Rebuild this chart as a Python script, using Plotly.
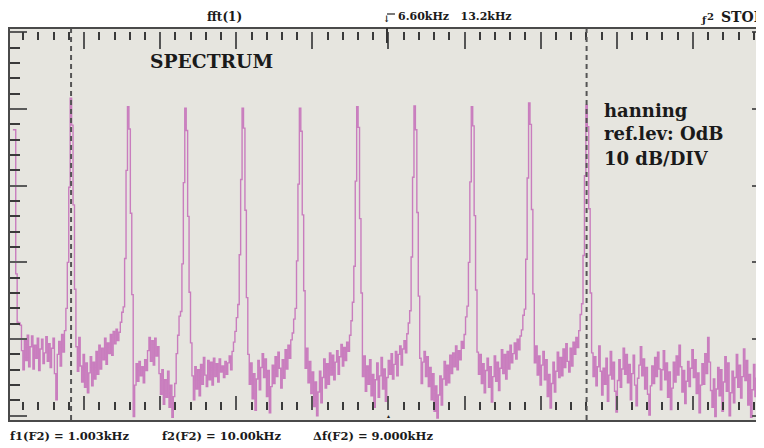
import plotly.graph_objects as go

# ---------------- data ----------------
# FFT magnitude in dB, one value per 0.025 kHz bin, starting at DC
BIN_KHZ = 0.025
band_0k = [-12.7, -12.7, -31.5, -37.8,
           -37.9, -38.2, -41.5, -44.0, -40.2, -42.8, -39.5, -43.6, -41.0, -39.6, -43.9, -40.8, -42.5, -39.9, -44.1, -41.3,
           -40.0, -43.2, -41.8, -39.7, -42.9, -40.6, -43.7, -41.2, -39.9, -44.5, -47.9, -42.0, -40.3, -43.5, -39.4, -41.7, -38.9,
           -36.0, -30.0, -20.2]
band_1k = [-8.6, -12.1, -22.5, -33.5,
           -41.0, -44.2, -39.8, -43.5, -45.6, -42.0, -46.3, -43.1, -47.0, -44.4, -42.3, -46.1, -43.0, -45.2, -41.6, -44.6,
           -40.8, -43.9, -41.2, -42.7, -39.9, -43.3, -40.5, -41.9, -39.4, -42.1, -39.0, -40.6, -38.7, -40.2, -39.1, -37.8, -36.5,
           -35.8, -29.5, -18.0]
band_2k = [-9.7, -12.6, -23.6, -34.2,
           -50.1, -46.0, -43.2, -45.5, -42.9, -44.8, -43.6, -45.7, -42.7, -44.1, -41.5, -39.8, -42.9, -40.2, -43.4, -39.9,
           -42.2, -41.0, -44.5, -47.2, -44.0, -48.5, -45.3, -47.6, -44.2, -48.9, -46.0, -50.2, -47.5, -45.8, -41.9, -39.5, -37.0,
           -36.4, -30.2, -19.6]
band_3k = [-9.9, -12.8, -24.0, -33.9,
           -40.5, -44.8, -47.9, -43.6, -46.5, -44.0, -47.4, -43.3, -45.9, -42.4, -44.7, -46.2, -42.8, -45.3, -43.0, -46.0,
           -42.5, -44.9, -43.2, -45.6, -42.6, -44.3, -43.5, -45.0, -42.9, -44.6, -43.1, -42.2, -44.0, -41.6, -40.4, -39.0, -37.2,
           -35.5, -29.0, -19.2]
band_4k = [-9.9, -12.5, -23.2, -34.6,
           -42.0, -45.9, -43.1, -47.8, -44.5, -49.3, -45.2, -42.8, -46.6, -43.7, -41.9, -45.0, -42.6, -47.5, -44.1, -49.6,
           -46.2, -43.4, -45.8, -42.3, -44.9, -41.7, -43.8, -46.4, -42.7, -45.1, -41.4, -43.9, -40.8, -42.5, -40.1, -39.2, -37.4,
           -36.0, -29.8, -19.8]
band_5k = [-9.9, -12.9, -23.8, -33.7,
           -43.8, -41.2, -45.7, -42.9, -47.1, -44.3, -48.8, -45.6, -50.0, -46.9, -44.2, -48.3, -45.0, -42.6, -46.4, -43.2,
           -45.9, -41.8, -44.7, -42.1, -45.3, -43.0, -41.5, -44.6, -42.3, -40.7, -43.5, -41.1, -42.8, -40.4, -41.6, -39.5, -37.6,
           -35.2, -30.5, -19.4]
band_6k = [-9.7, -12.4, -24.3, -34.0,
           -44.9, -42.2, -46.8, -43.5, -45.9, -42.7, -47.4, -44.6, -48.9, -45.3, -43.1, -47.6, -44.8, -42.4, -46.5, -43.9,
           -48.1, -45.0, -42.8, -44.6, -41.9, -45.2, -43.3, -41.6, -44.8, -42.0, -40.9, -43.4, -41.3, -40.2, -41.8, -39.3, -37.9,
           -36.3, -29.3, -18.9]
band_7k = [-9.6, -12.7, -23.5, -34.4,
           -42.5, -45.8, -43.0, -41.6, -44.9, -42.3, -46.2, -43.7, -47.9, -44.5, -49.4, -46.1, -50.3, -47.3, -44.8, -48.6,
           -45.2, -42.9, -46.0, -43.4, -45.7, -42.1, -44.5, -41.8, -43.6, -40.9, -44.0, -41.5, -42.7, -40.3, -41.2, -39.4, -37.1,
           -35.7, -30.0, -19.5]
band_8k = [-9.7, -12.2, -23.9, -33.6,
           -41.7, -44.6, -42.0, -45.8, -43.2, -47.0, -44.1, -42.5, -46.3, -43.6, -48.2, -44.9, -42.2, -45.5, -43.0, -46.7,
           -43.8, -41.4, -44.5, -42.0, -45.2, -41.6, -43.9, -40.8, -43.1, -41.9, -40.5, -42.6, -40.0, -41.4, -39.6, -38.8, -36.9,
           -36.1, -29.6, -19.0]
band_9k = [-9.2, -12.0, -23.1, -34.1,
           -43.1, -40.9, -44.7, -42.2, -46.0, -43.4, -41.6, -45.3, -42.7, -47.5, -44.6, -49.0, -45.8, -43.0, -46.9, -44.2,
           -41.7, -45.0, -42.4, -44.8, -41.3, -43.7, -40.6, -42.9, -44.3, -41.2, -43.5, -40.4, -42.0, -39.8, -41.1, -38.9, -36.8,
           -35.4, -29.1, -18.7]
band_10k = [-9.5, -12.3, -23.0, -34.0,
            -41.8, -44.9, -42.3, -46.1, -43.6, -40.9, -44.2, -47.3, -43.8, -45.9, -42.5, -48.1, -44.7, -41.6, -45.2, -43.0,
            -46.8, -49.5, -45.4, -42.7, -46.3, -43.9, -41.2, -44.6, -42.0,
            -45.7, -43.3, -47.9, -44.5, -42.1, -46.0, -48.7, -45.1, -43.4, -41.0, -44.8, -42.6, -46.5, -43.7, -47.2, -49.9,
            -46.1, -43.5, -45.8, -42.4, -44.9, -41.7, -43.9, -46.6, -44.0,
            -41.5, -45.3, -43.1, -47.6, -44.3, -49.2, -46.4, -43.0, -45.6, -42.2, -44.7, -40.8, -43.6, -46.9, -44.1, -48.4,
            -45.5, -42.9, -46.2, -43.8, -41.4, -45.0, -42.7, -47.1, -44.4,
            -49.6, -46.0, -43.2, -45.9, -41.9, -44.5, -39.8, -43.0, -46.7, -48.9, -45.2, -50.1, -46.5, -43.7, -47.4, -44.0,
            -49.4, -45.6, -42.3, -46.8, -43.1, -50.0, -47.0, -44.2, -48.3,
            -45.0, -42.0, -46.3, -43.4, -47.7, -44.9, -41.3, -45.4, -42.8, -48.6, -44.6, -50.2, -46.6, -43.3, -47.5, -45.1,
            -41.1, -44.3, -39.9, -43.7, -46.4, -44.0, -47.2, -43.5, -45.8]

spectrum_db = (band_0k + band_1k + band_2k + band_3k + band_4k + band_5k
               + band_6k + band_7k + band_8k + band_9k + band_10k)
freq_khz = [round(i * BIN_KHZ - BIN_KHZ / 2, 5) for i in range(len(spectrum_db))]

cursor_f1_khz = 1.003
cursor_f2_khz = 10.00

header_left = "fft(1)"
header_mid = "6.60kHz   13.2kHz"
header_right = "STOP"
title_text = "SPECTRUM"
info_lines = ["hanning", "ref.lev: OdB", "10 dB/DIV"]
footer = ["f1(F2) = 1.003kHz", "f2(F2) = 10.00kHz", "\u0394f(F2) = 9.000kHz"]

# ---------------- layout geometry ----------------
# the page body adds an 8 px offset; geometry below is in window pixels
OFF = 8
W, H = 764, 448
PL, PR, PT, PB = 10, 772, 29, 420          # plot area in window pixels
X_RANGE = [-0.0627, 13.201]
Y_RANGE = [-50.55, 0.43]
X_DIV = 1.328
X_TICK0 = -0.0975

BG = "#E6E5DF"
FRAME = "#4a4a4a"
TICKC = "#3a3a3a"
TRACE = "#C97DBE"
FONT = "DejaVu Serif"


def px_x(px):
    return (px - PL) / (PR - PL)


def px_y(py):
    return (PB - py) / (PB - PT)


fig = go.Figure()
fig.add_trace(go.Scatter(x=freq_khz, y=spectrum_db, mode="lines",
                         line=dict(color=TRACE, width=1.4, shape="hv"),
                         showlegend=False, hoverinfo="skip"))
# helper empty traces so the tick-only axes are drawn
fig.add_trace(go.Scatter(x=[None], y=[None], xaxis="x2", yaxis="y", showlegend=False, hoverinfo="skip"))
fig.add_trace(go.Scatter(x=[None], y=[None], xaxis="x3", yaxis="y", showlegend=False, hoverinfo="skip"))
fig.add_trace(go.Scatter(x=[None], y=[None], xaxis="x", yaxis="y2", showlegend=False, hoverinfo="skip"))

fig.update_layout(
    width=W, height=H,
    margin=dict(l=PL - OFF, r=W - (PR - OFF), t=PT - OFF, b=H - (PB - OFF), pad=0),
    paper_bgcolor="white", plot_bgcolor=BG,
    xaxis=dict(range=X_RANGE, showline=True, mirror=True, linecolor=FRAME, linewidth=2,
               ticks="", showticklabels=False, showgrid=False, zeroline=False),
    yaxis=dict(range=Y_RANGE, showline=True, mirror=True, linecolor=FRAME, linewidth=2,
               ticks="inside", ticklen=17, tickwidth=2, tickcolor="#5a5a5a",
               tick0=0, dtick=10, showticklabels=False, showgrid=False, zeroline=False,
               minor=dict(ticks="inside", ticklen=10, tickwidth=2, tickcolor=TICKC, tick0=0, dtick=2)),
    xaxis2=dict(range=X_RANGE, overlaying="x", side="top", anchor="free", position=px_y(31),
                ticks="inside", ticklen=17, tickwidth=1.6, tickcolor="#555",
                tick0=X_TICK0, dtick=X_DIV, showticklabels=False, showline=False,
                showgrid=False, zeroline=False,
                minor=dict(ticks="inside", ticklen=8, tickwidth=1.6, tickcolor=TICKC,
                           tick0=X_TICK0, dtick=X_DIV / 5)),
    xaxis3=dict(range=X_RANGE, overlaying="x", side="bottom", anchor="free", position=px_y(410),
                ticks="inside", ticklen=14, tickwidth=1.6, tickcolor="#555",
                tick0=X_TICK0, dtick=X_DIV, showticklabels=False, showline=False,
                showgrid=False, zeroline=False,
                minor=dict(ticks="inside", ticklen=8, tickwidth=1.6, tickcolor=TICKC,
                           tick0=X_TICK0, dtick=X_DIV / 5)),
    yaxis2=dict(range=Y_RANGE, overlaying="y", side="right", anchor="x",
                ticks="inside", ticklen=18, tickwidth=2, tickcolor="#5a5a5a",
                tick0=0, dtick=10, showticklabels=False, showline=False,
                showgrid=False, zeroline=False,
                minor=dict(ticks="inside", ticklen=11, tickwidth=2, tickcolor=TICKC, tick0=0, dtick=2)),
)

# cursors
for fc in (cursor_f1_khz, cursor_f2_khz):
    fig.add_shape(type="line", xref="x", yref="paper", x0=fc, x1=fc, y0=0, y1=1,
                  line=dict(color="#555", width=2, dash="5px,4px"), layer="above")

# center / trigger markers
fig.add_shape(type="line", xref="paper", yref="paper", x0=px_x(388), x1=px_x(388),
              y0=px_y(28), y1=px_y(43), line=dict(color="#333", width=2))
fig.add_annotation(x=px_x(389), y=px_y(421), xref="paper", yref="paper", text="\u25B2",
                   showarrow=False, xanchor="center", yanchor="bottom",
                   font=dict(size=5, color="#222"))


def txt(s, x, y, size, xanchor="left"):
    fig.add_annotation(x=px_x(x), y=px_y(y), xref="paper", yref="paper", text="<b>" + s + "</b>",
                       showarrow=False, xanchor=xanchor, yanchor="middle",
                       font=dict(family=FONT, size=size, color="#1a1a1a"))


txt(header_left, 225, 17, 12, "center")
txt("\u2193", 388, 19, 9, "center")
fig.add_shape(type="line", xref="paper", yref="paper", x0=px_x(388), x1=px_x(396),
              y0=px_y(14), y1=px_y(14), line=dict(color="#222", width=1.2))
txt(header_mid, 397, 17, 11)
txt("\u0192", 701, 19, 10)
txt("2", 707, 17, 10)
txt(header_right, 721, 17, 14)
txt(title_text, 148, 61, 18.7)
for i, s in enumerate(info_lines):
    txt(s, 604, 110 + 24 * i, 18)
for s, x in zip(footer, (8, 160, 312)):
    txt(s, x, 436, 11.5)

fig.write_html("out.html")
